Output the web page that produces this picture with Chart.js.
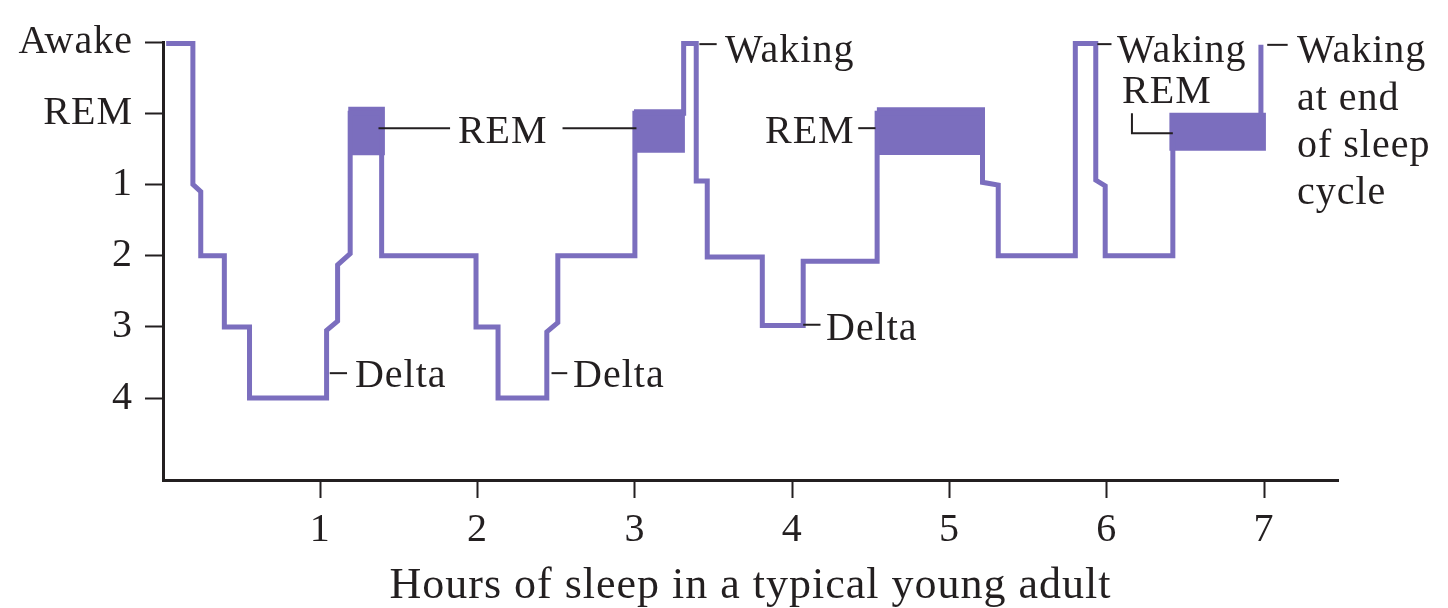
<!DOCTYPE html>
<html>
<head>
<meta charset="utf-8">
<script src="https://cdn.jsdelivr.net/npm/chart.js@4.4.1/dist/chart.umd.min.js"></script>
<style>
  html, body { margin: 0; padding: 0; background: #fff; }
  #wrap { width: 1448px; height: 608px; }
</style>
</head>
<body>
<div id="wrap"><canvas id="sleepChart"></canvas></div>
<script>
// y values: 0 = Awake, 1 = REM, 2..5 = stages 1..4
const stageLabels = ["Awake", "REM", "1", "2", "3", "4"];
const stageTicks = [0, 1, 2, 3, 4, 5];
const hourTicks = [1, 2, 3, 4, 5, 6, 7];

// hypnogram corners (hours, stage)
const hypnoHours = [0.02, 0.19, 0.19, 0.24, 0.24, 0.39, 0.39, 0.55, 0.55, 1.04, 1.04, 1.11, 1.11, 1.19, 1.19, 1.39, 1.39,
  1.99, 1.99, 2.13, 2.13, 2.44, 2.44, 2.51, 2.51, 3.0, 3.0, 3.31, 3.31, 3.39, 3.39, 3.46, 3.46, 3.81, 3.81, 4.07, 4.07,
  4.54, 4.54, 5.21, 5.21, 5.31, 5.31, 5.80, 5.80, 5.93, 5.93, 5.99, 5.99, 6.42, 6.42, 6.98, 6.98];
const hypnoStages = [0.02, 0.02, 2.0, 2.1, 3.0, 3.0, 4.0, 4.0, 5.0, 5.0, 4.05, 3.92, 3.13, 2.97, 1.0, 1.0, 3.0,
  3.0, 4.0, 4.0, 5.0, 5.0, 4.07, 3.94, 3.0, 3.0, 1.0, 1.0, 0.02, 0.02, 1.95, 1.95, 3.02, 3.02, 3.98, 3.98, 3.08,
  3.08, 1.0, 1.0, 1.97, 2.01, 3.0, 3.0, 0.02, 0.02, 1.94, 2.02, 3.0, 3.0, 1.2, 1.2, 0.04];

// REM periods (filled blocks)
const remStart = [1.177, 2.994, 4.537, 6.397];
const remEnd = [1.411, 3.318, 5.226, 7.012];
const remTop = [0.91, 0.945, 0.917, 0.993];
const remBottom = [1.59, 1.555, 1.587, 1.527];

// callout texts: left edge (hours) and baseline (stage)
const noteTexts = ["REM", "Waking", "Delta", "Delta", "Delta", "REM", "Waking", "REM", "Waking", "at end", "of sleep", "cycle"];
const noteHours = [1.875, 3.573, 1.22, 2.607, 4.215, 3.827, 6.065, 6.097, 7.209, 7.209, 7.209, 7.209];
const noteStages = [1.42, 0.28, 4.84, 4.84, 4.19, 1.42, 0.28, 0.857, 0.28, 0.95, 1.61, 2.28];

// leader lines, as [hours, stage] points
const leaderLines = [
  [[1.37, 1.21], [1.825, 1.21]],
  [[2.54, 1.21], [3.01, 1.21]],
  [[1.06, 4.65], [1.17, 4.65]],
  [[2.47, 4.65], [2.57, 4.65]],
  [[3.41, 0.03], [3.52, 0.03]],
  [[4.07, 3.97], [4.18, 3.97]],
  [[4.42, 1.21], [4.53, 1.21]],
  [[5.94, 0.03], [6.03, 0.03]],
  [[6.16, 1.0], [6.16, 1.28], [6.42, 1.28]],
  [[7.02, 0.04], [7.15, 0.04]],
];

const purple = "#7b6ebe";
const ink = "#231f20";
const serif = "'Liberation Serif', 'Times New Roman', serif";

const spacingPlugin = {
  id: "spacing",
  beforeDraw(chart) {
    chart.ctx.letterSpacing = "1px";
  },
};

const calloutPlugin = {
  id: "callouts",
  afterDatasetsDraw(chart) {
    const ctx = chart.ctx;
    const x = chart.scales.x;
    const y = chart.scales.y;
    ctx.save();
    ctx.strokeStyle = ink;
    ctx.lineWidth = 2;
    leaderLines.forEach((pts) => {
      ctx.beginPath();
      pts.forEach(([h, s], i) => {
        const px = x.getPixelForValue(h);
        const py = y.getPixelForValue(s);
        if (i === 0) ctx.moveTo(px, py);
        else ctx.lineTo(px, py);
      });
      ctx.stroke();
    });
    ctx.fillStyle = ink;
    ctx.font = "40px " + serif;
    ctx.textAlign = "left";
    ctx.textBaseline = "alphabetic";
    ctx.letterSpacing = "1px";
    noteTexts.forEach((t, i) => {
      ctx.fillText(t, x.getPixelForValue(noteHours[i]), y.getPixelForValue(noteStages[i]));
    });
    ctx.restore();
  },
};

const datasets = [
  {
    label: "Sleep stage",
    data: hypnoHours.map((h, i) => ({ x: h, y: hypnoStages[i] })),
    borderColor: purple,
    borderWidth: 5,
    borderJoinStyle: "miter",
    borderCapStyle: "butt",
    pointRadius: 0,
    tension: 0,
    fill: false,
    clip: false,
  },
];
remStart.forEach((s, i) => {
  datasets.push({
    label: "REM " + (i + 1),
    data: [{ x: s, y: remTop[i] }, { x: remEnd[i], y: remTop[i] }],
    borderWidth: 0,
    pointRadius: 0,
    backgroundColor: purple,
    fill: { value: remBottom[i] },
    clip: false,
  });
});

new Chart(document.getElementById("sleepChart"), {
  type: "line",
  data: { datasets: datasets },
  plugins: [spacingPlugin, calloutPlugin],
  options: {
    responsive: true,
    maintainAspectRatio: false,
    animation: false,
    layout: { padding: { top: 42, right: 110, left: 0, bottom: 0 } },
    plugins: {
      legend: { display: false },
      tooltip: { enabled: false },
    },
    scales: {
      x: {
        type: "linear",
        min: 0,
        max: 7.47,
        afterBuildTicks: (axis) => {
          axis.ticks = hourTicks.map((v) => ({ value: v }));
        },
        afterFit: (scale) => {
          scale.height = 128;
        },
        ticks: {
          color: ink,
          padding: 8,
          maxRotation: 0,
          font: { family: serif, size: 40 },
        },
        grid: {
          display: true,
          drawOnChartArea: false,
          drawTicks: true,
          tickLength: 18,
          tickWidth: 2,
          tickColor: ink,
        },
        border: { display: true, width: 3, color: ink },
        title: {
          display: true,
          text: "Hours of sleep in a typical young adult",
          color: ink,
          padding: 0,
          font: { family: serif, size: 44, lineHeight: 1 },
        },
      },
      y: {
        type: "linear",
        reverse: true,
        min: 0,
        max: 6.15,
        afterBuildTicks: (axis) => {
          axis.ticks = stageTicks.map((v) => ({ value: v }));
        },
        afterFit: (scale) => {
          scale.width = 163;
        },
        ticks: {
          color: ink,
          padding: 12,
          font: { family: serif, size: 40 },
          callback: (v) => stageLabels[v],
        },
        grid: {
          display: true,
          drawOnChartArea: false,
          drawTicks: true,
          tickLength: 18,
          tickWidth: 2,
          tickColor: ink,
        },
        border: { display: true, width: 3, color: ink },
      },
    },
  },
});
</script>
</body>
</html>
